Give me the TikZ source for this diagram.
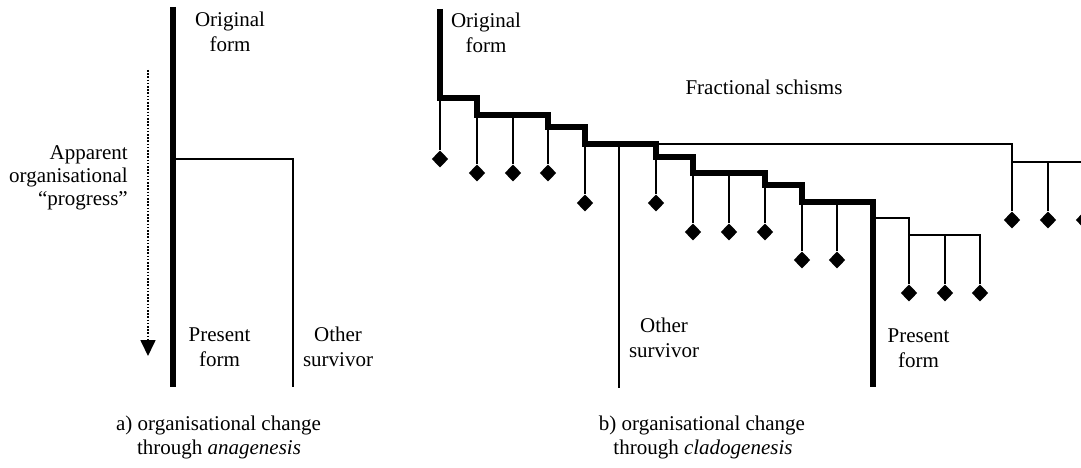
\documentclass[tikz,border=0pt]{standalone}
\usepackage{fontspec}
\setmainfont{Liberation Serif}
\usetikzlibrary{shapes.geometric,arrows.meta}
\begin{document}
\begin{tikzpicture}[x=1pt,y=-1pt,
  thickline/.style={line width=5.8pt},
  thinline/.style={line width=2.1pt},
  leaf/.style={diamond,fill=black,inner sep=0pt,minimum width=16.5pt,minimum height=17pt},
  lbl/.style={font=\fontsize{21}{25}\selectfont,inner sep=0pt,anchor=base},
  lblr/.style={font=\fontsize{21}{25}\selectfont,inner sep=0pt,anchor=base east},
]
\useasboundingbox (0,0) rectangle (1081,468);
\clip (0,0) rectangle (1081,468);

% ---------- a) anagenesis ----------
\coordinate (Ltop) at (173,7);
\coordinate (Lbot) at (173,387);
\coordinate (Lbr) at (173,159);
\coordinate (Lcorner) at (293,159);
\coordinate (Lother) at (293,387);
\draw[line width=6.3pt] (Ltop) -- (Lbot);
\draw[thinline] (Lbr) -- (Lcorner) -- (Lother);

\coordinate (Astart) at (148,70);
\coordinate (Aend) at (148,356);
\draw[line width=1.7pt,dash pattern=on 1.6pt off 1.6pt,-{Triangle[width=15pt,length=16pt]}] (Astart) -- (Aend);

\node[lbl] (lo1) at (230,27) {Original};
\node[lbl] (lo2) at (230,52) {form};
\node[lblr] (ap1) at (128,159) {Apparent};
\node[lblr] (ap2) at (128,182) {organisational};
\node[lblr] (ap3) at (128,205) {“progress”};
\node[lbl] (lp1) at (219.5,341) {Present};
\node[lbl] (lp2) at (219.5,366) {form};
\node[lbl] (ls1) at (338,341) {Other};
\node[lbl] (ls2) at (338,366) {survivor};
\node[lbl] (ca1) at (218.5,430) {a) organisational change};
\node[lbl] (ca2) at (219,454) {through \textit{anagenesis}};

% ---------- b) cladogenesis ----------
\coordinate (R0) at (440,9);
\coordinate (R1a) at (440,98);  \coordinate (R1b) at (477,98);
\coordinate (R2a) at (477,115); \coordinate (R2b) at (548,115);
\coordinate (R3a) at (548,127); \coordinate (R3b) at (585,127);
\coordinate (R4a) at (585,144); \coordinate (R4b) at (656,144);
\coordinate (R5a) at (656,157); \coordinate (R5b) at (693,157);
\coordinate (R6a) at (693,173); \coordinate (R6b) at (765,173);
\coordinate (R7a) at (765,185); \coordinate (R7b) at (802,185);
\coordinate (R8a) at (802,202); \coordinate (R8b) at (873,202);
\coordinate (R9) at (873,387);
\draw[thickline] (R0) -- (R1a) -- (R1b) -- (R2a) -- (R2b) -- (R3a) -- (R3b)
  -- (R4a) -- (R4b) -- (R5a) -- (R5b) -- (R6a) -- (R6b) -- (R7a) -- (R7b)
  -- (R8a) -- (R8b) -- (R9);
\draw[line width=6.5pt] (R8b) -- (R9);

% leaves
\node[leaf] (d1) at (440,159) {};
\node[leaf] (d2) at (477,173) {};
\node[leaf] (d3) at (513,173) {};
\node[leaf] (d4) at (548,173) {};
\node[leaf] (d5) at (585,203) {};
\node[leaf] (d6) at (656,203) {};
\node[leaf] (d7) at (693,232) {};
\node[leaf] (d8) at (729,232) {};
\node[leaf] (d9) at (765,232) {};
\node[leaf] (d10) at (802,260) {};
\node[leaf] (d11) at (837,260) {};
\node[leaf] (d12) at (1012,220) {};
\node[leaf] (d13) at (1048,220) {};
\node[leaf] (d14) at (1084,220) {};
\node[leaf] (d15) at (909,293) {};
\node[leaf] (d16) at (945,293) {};
\node[leaf] (d17) at (980,293) {};

% junction points
\coordinate (J513) at (513,115);
\coordinate (J729) at (729,173);
\coordinate (J837) at (837,202);
\coordinate (J619) at (619,144);
\coordinate (S619) at (619,388);
\coordinate (B1a) at (1012,144);
\coordinate (B1b) at (1012,162);
\coordinate (B1c) at (1048,162);
\coordinate (B1d) at (1084,162);
\coordinate (B1e) at (1095,162);
\coordinate (B2a) at (873,218);
\coordinate (B2b) at (909,218);
\coordinate (B2c) at (909,235);
\coordinate (B2d) at (945,235);
\coordinate (B2e) at (980,235);

% drops
\draw[thinline] (R1a) -- (d1.north);
\draw[thinline] (R2a) -- (d2.north);
\draw[thinline] (J513) -- (d3.north);
\draw[thinline] (R3a) -- (d4.north);
\draw[thinline] (R4a) -- (d5.north);
\draw[thinline] (J619) -- (S619);
\draw[thinline] (R5a) -- (d6.north);
\draw[thinline] (R6a) -- (d7.north);
\draw[thinline] (J729) -- (d8.north);
\draw[thinline] (R7a) -- (d9.north);
\draw[thinline] (R8a) -- (d10.north);
\draw[thinline] (J837) -- (d11.north);

% far branch
\draw[thinline] (R4b) -- (B1a) -- (d12.north);
\draw[thinline] (B1b) -- (B1e);
\draw[thinline] (B1c) -- (d13.north);
\draw[thinline] (B1d) -- (d14.north);

% branch off present form
\draw[thinline] (B2a) -- (B2b) -- (d15.north);
\draw[thinline] (B2c) -- (B2e) -- (d17.north);
\draw[thinline] (B2d) -- (d16.north);

% labels
\node[lbl] (ro1) at (486,28) {Original};
\node[lbl] (ro2) at (486,53) {form};
\node[lbl] (fs) at (764,95) {Fractional schisms};
\node[lbl] (rs1) at (664,332) {Other};
\node[lbl] (rs2) at (664,357) {survivor};
\node[lbl] (rp1) at (918.5,342) {Present};
\node[lbl] (rp2) at (918.5,367) {form};
\node[lbl] (cb1) at (702,430) {b) organisational change};
\node[lbl] (cb2) at (703,454) {through \textit{cladogenesis}};
\end{tikzpicture}
\end{document}
